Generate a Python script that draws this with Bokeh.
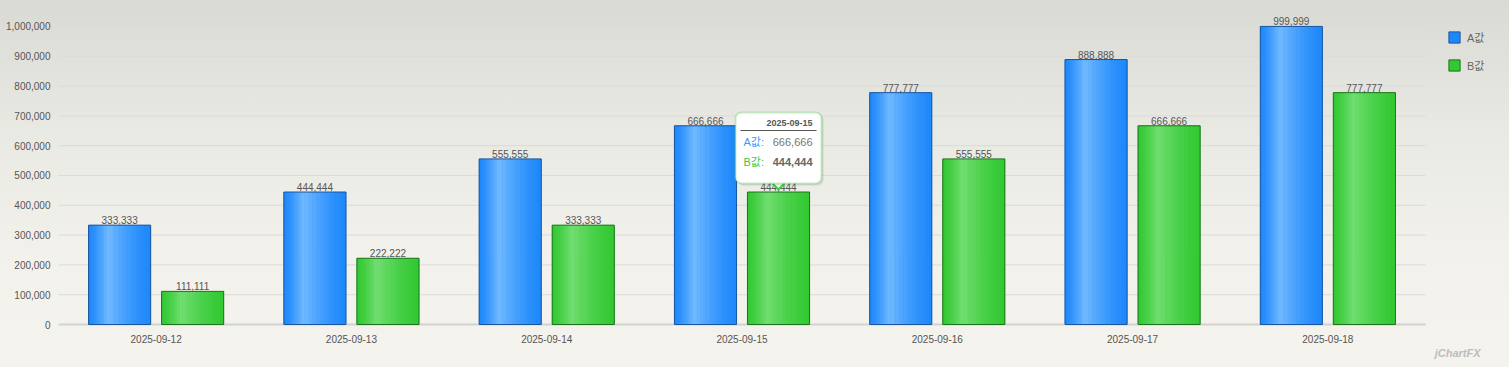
from bokeh.plotting import figure
from bokeh.models import (ColumnDataSource, Range1d, LabelSet, Legend, LegendItem,
                          BoxAnnotation, Label, NumeralTickFormatter, FixedTicker)
from bokeh.transform import dodge
from bokeh.core.properties import value
from bokeh.embed import file_html
from bokeh.resources import INLINE

# ---------------- data ----------------
dates = ["2025-09-12", "2025-09-13", "2025-09-14", "2025-09-15",
         "2025-09-16", "2025-09-17", "2025-09-18"]
a_values = [333333, 444444, 555555, 666666, 777777, 888888, 999999]
b_values = [111111, 222222, 333333, 444444, 555555, 666666, 777777]
series_names = ["A값", "B값"]
y_ticks = [0, 100000, 200000, 300000, 400000, 500000, 600000, 700000, 800000, 900000, 1000000]
tooltip_date = "2025-09-15"

# ---------------- layout / style ----------------
FONT = "Liberation Sans, Arial, 'Noto Sans CJK KR', sans-serif"
TXT = "#555555"
W, H = 1509, 367
BORDER_L, BORDER_T = 58, 14
PLOT_W = 1367          # width of the category area (px)
ZERO_PX = 310          # px from frame top to the zero line
Y_END = 1040000
FRAME_W = W - BORDER_L
FRAME_H = H - BORDER_T
N = len(dates)
XPX = N / PLOT_W                      # x units per px
UPX = Y_END / ZERO_PX                 # y units per px
X_END = FRAME_W * XPX
Y_START = -(FRAME_H - ZERO_PX) * UPX

BAR_W = 0.318
OFF = 0.187

xs = [i + 0.5 for i in range(N)]
src = ColumnDataSource(dict(
    x=xs, dates=dates, a=a_values, b=b_values, zero=[0] * N,
    a_lbl=[f"{v:,}" for v in a_values],
    b_lbl=[f"{v:,}" for v in b_values],
))

p = figure(x_range=Range1d(0, X_END), y_range=Range1d(Y_START, Y_END),
           width=W, height=H, output_backend="svg", toolbar_location=None,
           x_axis_location=None,
           min_border_left=BORDER_L, min_border_right=0,
           min_border_top=BORDER_T, min_border_bottom=0)
p.styles = {"background": "linear-gradient(to bottom, #dadad5 0%, #e9e9e3 35%, #f2f1eb 70%, #f4f3ed 100%)"}
p.background_fill_alpha = 0
p.border_fill_alpha = 0
p.outline_line_color = None
p.xgrid.grid_line_color = None
p.ygrid.grid_line_color = None

# horizontal grid lines over the category area only
grid_src = ColumnDataSource(dict(y=y_ticks[1:], x0=[0] * (len(y_ticks) - 1), x1=[N] * (len(y_ticks) - 1)))
p.segment(x0="x0", x1="x1", y0="y", y1="y", source=grid_src, line_color="#dadada", line_width=1)
p.segment(x0=[0], x1=[N], y0=[0], y1=[0], line_color="#d2d2d2", line_width=2)


def mix(c1, c2, t):
    a = [int(c1[i:i + 2], 16) for i in (1, 3, 5)]
    b = [int(c2[i:i + 2], 16) for i in (1, 3, 5)]
    return "#" + "".join(f"{round(x + (y - x) * t):02x}" for x, y in zip(a, b))


def gradient_bars(col, off, edge, light, line):
    base = p.vbar(x=dodge("x", off), top=col, width=BAR_W,
                  source=src, fill_color=edge, line_color=None)
    n = 24
    peak = 0.32
    for k in range(n):
        t = (k + 0.5) / n
        s = t / peak if t < peak else (1 - t) / (1 - peak)
        s = max(0.0, s) ** 1.4
        xo = off - BAR_W / 2 + (k + 0.5) * BAR_W / n
        p.vbar(x=dodge("x", xo), top=col, width=BAR_W / n + 0.002,
               source=src, fill_color=mix(edge, light, s), line_color=None)
    outline = p.vbar(x=dodge("x", off), top=col, width=BAR_W,
                     source=src, fill_alpha=0, line_color=line, line_width=1)
    return base, outline


a_base, a_out = gradient_bars("a", -OFF, "#1e88fb", "#72baff", "#1a56a0")
b_base, b_out = gradient_bars("b", OFF, "#33c933", "#72de72", "#1c741c")

for col, off, top in (("a_lbl", -OFF, "a"), ("b_lbl", OFF, "b")):
    p.add_layout(LabelSet(x=dodge("x", off), y=top, text=col, source=src,
                          text_align="center", text_baseline="bottom", y_offset=1,
                          text_font=value(FONT), text_font_size="10px", text_color=TXT))

# category labels under the zero line
p.add_layout(LabelSet(x="x", y="zero", text="dates", source=src, y_offset=-14,
                      text_align="center", text_baseline="middle",
                      text_font=value(FONT), text_font_size="10px", text_color=TXT))

# y axis
p.yaxis.ticker = FixedTicker(ticks=y_ticks)
p.yaxis.formatter = NumeralTickFormatter(format="0,0")
p.yaxis.axis_line_color = None
p.yaxis.major_tick_line_color = None
p.yaxis.minor_tick_line_color = None
p.yaxis.major_tick_out = 0
p.yaxis.major_tick_in = 0
p.yaxis.minor_tick_out = 0
p.yaxis.major_label_standoff = 8
p.yaxis.major_label_text_font = FONT
p.yaxis.major_label_text_font_size = "10px"
p.yaxis.major_label_text_color = TXT

# legend, right of the category area
legend = Legend(items=[LegendItem(label=series_names[0], renderers=[a_base, a_out]),
                       LegendItem(label=series_names[1], renderers=[b_base, b_out])],
                location=(PLOT_W + 22, FRAME_H - 59), margin=0, padding=0, spacing=12,
                glyph_width=14, glyph_height=14, label_height=14, label_standoff=6,
                label_text_font=FONT, label_text_font_size="11px", label_text_color="#666666",
                background_fill_alpha=0, border_line_color=None)
p.add_layout(legend, "center")

# tooltip annotation anchored at the B bar of tooltip_date
ti = dates.index(tooltip_date)
bx = xs[ti] + OFF
by = b_values[ti]
box_l, box_r = bx - 43 * XPX, bx + 43 * XPX
box_b, box_t = by + 8.6 * UPX, by + 79.6 * UPX
p.add_layout(BoxAnnotation(left=box_l + 2 * XPX, right=box_r + 2 * XPX,
                           bottom=box_b - 2 * UPX, top=box_t - 2 * UPX,
                           fill_color="#000000", fill_alpha=0.10, line_color=None,
                           border_radius=6, level="overlay"))
p.add_layout(BoxAnnotation(left=box_l, right=box_r, bottom=box_b, top=box_t,
                           fill_color="white", fill_alpha=1, line_color="#48c948", line_width=2,
                           border_radius=6, level="overlay"))
p.add_layout(BoxAnnotation(left=bx - 38 * XPX, right=bx + 38 * XPX,
                           bottom=by + 61.1 * UPX, top=by + 62.1 * UPX,
                           fill_color="#555555", fill_alpha=1, line_color=None, level="overlay"))
p.patch(x=[bx - 6 * XPX, bx, bx + 6 * XPX], y=[box_b + 1 * UPX, box_b - 6 * UPX, box_b + 1 * UPX],
        fill_color="white", line_color=None, level="overlay")
p.line(x=[bx - 6 * XPX, bx, bx + 6 * XPX], y=[box_b, box_b - 6 * UPX, box_b],
       line_color="#48c948", line_width=2, level="overlay")


def tip(text, dx, dy, align, color, size="11px", style="normal"):
    p.add_layout(Label(x=bx, y=by, x_offset=dx, y_offset=dy, text=text, text_align=align,
                       text_baseline="middle", text_font=FONT, text_font_size=size,
                       text_color=color, text_font_style=style, level="overlay"))


tip(tooltip_date, 34, 68.6, "right", "#555555", "9px", "bold")
tip(series_names[0] + ":", -35, 50.4, "left", "#3a9bf5")
tip(f"{a_values[ti]:,}", 34, 50.4, "right", "#777777")
tip(series_names[1] + ":", -35, 29.6, "left", "#3cc83c")
tip(f"{b_values[ti]:,}", 34, 29.6, "right", "#666666", "11px", "bold")

# watermark
p.add_layout(Label(x=N, y=0, x_offset=55, y_offset=-28, text="jChartFX", text_align="right",
                   text_baseline="middle", text_font=FONT, text_font_size="11px",
                   text_font_style="bold italic", text_color="#bdbdbd"))

open("out.html", "w").write(file_html(p, INLINE))
